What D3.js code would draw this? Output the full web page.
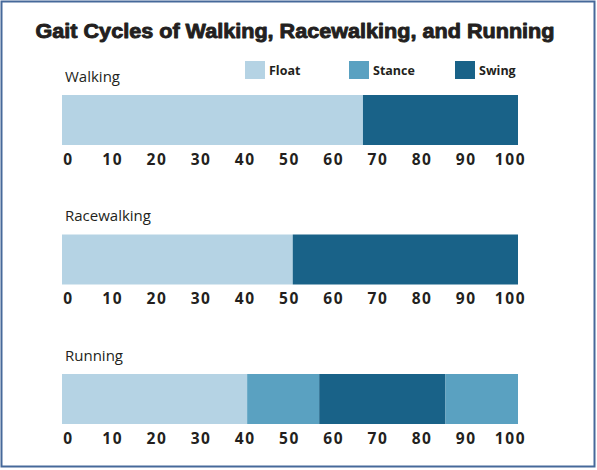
<!DOCTYPE html>
<html lang="en">
<head>
<meta charset="UTF-8">
<title>Gait Cycles</title>
<style>
  html, body { margin: 0; padding: 0; background: #fff; }
  svg { display: block; }
  .tick text { font-family: "Open Sans", sans-serif; font-weight: 700; font-size: 15.5px; fill: #231f20; letter-spacing: 1.6px; }
</style>
</head>
<body>
<script src="https://cdn.jsdelivr.net/npm/d3@7"></script>
<script>
    var width = 597;
    var height = 470;

    // data
    var categories = ["Walking", "Racewalking", "Running"];
    var phases = ["Float", "Stance", "Swing"];
    var phaseColors = ["#b5d3e4", "#5aa1c1", "#196288"];
    var walkingPhases = ["Float", "Swing"];
    var walkingValues = [66, 34];
    var racewalkingPhases = ["Float", "Swing"];
    var racewalkingValues = [50.6, 49.4];
    var runningPhases = ["Float", "Stance", "Swing", "Stance"];
    var runningValues = [40.6, 15.8, 27.7, 15.9];
    var tickValues = [0, 10, 20, 30, 40, 50, 60, 70, 80, 90, 100];

    var rows = [
        { name: categories[0], phases: walkingPhases, values: walkingValues },
        { name: categories[1], phases: racewalkingPhases, values: racewalkingValues },
        { name: categories[2], phases: runningPhases, values: runningValues }
    ];
    rows.forEach(function(r) {
        var ends = d3.cumsum(r.values);
        r.segs = r.values.map(function(v, i) {
            return { phase: r.phases[i], start: ends[i] - v, end: ends[i] };
        });
    });

    var barLeft = 62, barRight = 518, barHeight = 50;

    var x = d3.scaleLinear().domain([0, 100]).range([barLeft, barRight]);
    // tick labels sit slightly inset from the bar ends
    var xLabel = x.copy().range([barLeft + 6, barRight - 8]);
    var y = d3.scalePoint().domain(categories).range([95, 374]);
    var color = d3.scaleOrdinal().domain(phases).range(phaseColors);

    var svg = d3.select("body").append("svg")
        .attr("width", width)
        .attr("height", height);

    // frame
    svg.append("rect")
        .attr("x", 1.5).attr("y", 1.5)
        .attr("width", width - 4).attr("height", height - 5)
        .attr("fill", "none")
        .attr("stroke", "#46699a")
        .attr("stroke-width", 2);

    // title
    var title = svg.append("text")
        .attr("x", 295).attr("y", 38)
        .attr("text-anchor", "middle")
        .style("font-family", "Liberation Sans, Arial, sans-serif")
        .style("font-weight", 700)
        .style("font-size", "20px")
        .style("fill", "#231f20")
        .style("stroke", "#231f20")
        .style("stroke-width", 0.9)
        .style("stroke-linejoin", "round")
        .text("Gait Cycles of Walking, Racewalking, and Running");
    title.attr("textLength", 519).attr("lengthAdjust", "spacingAndGlyphs");

    // legend
    var legendX = [245, 349, 455];
    var legend = svg.selectAll(".legend")
        .data(phases)
        .enter().append("g")
        .attr("class", "legend")
        .attr("transform", function(d, i) { return "translate(" + legendX[i] + ",61)"; });
    legend.append("rect")
        .attr("width", 20).attr("height", 18)
        .attr("fill", function(d) { return color(d); });
    legend.append("text")
        .attr("x", 24).attr("y", 14)
        .style("font-family", "Open Sans, sans-serif")
        .style("font-weight", 700)
        .style("font-size", "12.5px")
        .style("fill", "#231f20")
        .text(function(d) { return d; });

    // rows
    var row = svg.selectAll(".row")
        .data(rows)
        .enter().append("g")
        .attr("class", "row")
        .attr("transform", function(d) { return "translate(0," + y(d.name) + ")"; });

    row.append("text")
        .attr("x", 65).attr("y", -13.5)
        .style("font-family", "Open Sans, sans-serif")
        .style("font-size", "15px")
        .style("fill", "#231f20")
        .text(function(d) { return d.name; });

    row.selectAll("rect")
        .data(function(d) { return d.segs; })
        .enter().append("rect")
        .attr("x", function(d) { return x(d.start); })
        .attr("y", 0)
        .attr("width", function(d) { return x(d.end) - x(d.start); })
        .attr("height", barHeight)
        .attr("fill", function(d) { return color(d.phase); });

    var axis = d3.axisBottom(xLabel)
        .tickValues(tickValues)
        .tickSize(0)
        .tickPadding(0);

    row.append("g")
        .attr("transform", "translate(0," + (barHeight + 8) + ")")
        .call(axis)
        .call(function(g) { g.select(".domain").remove(); })
        .selectAll("text")
        .attr("dy", "0.75em");
</script>
</body>
</html>
